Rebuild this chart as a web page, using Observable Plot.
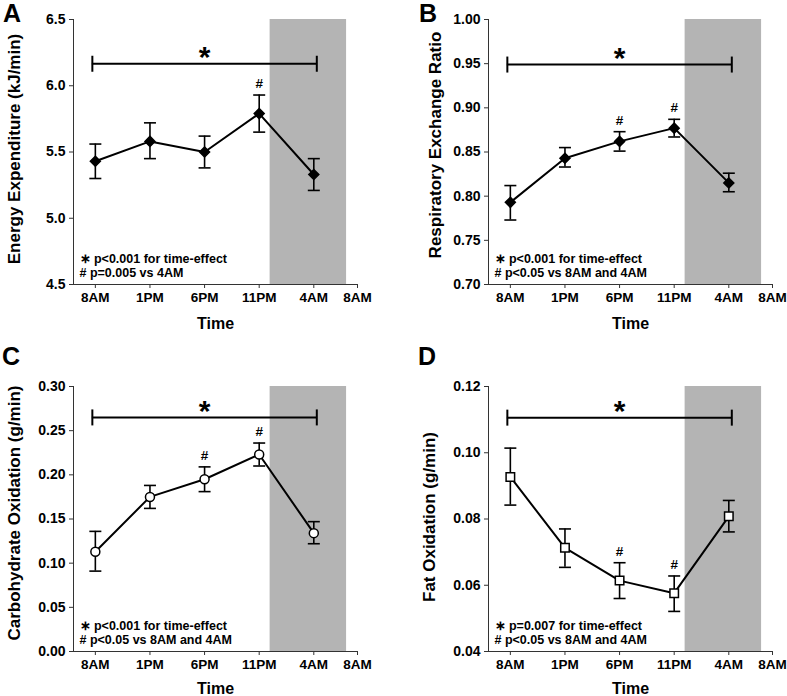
<!DOCTYPE html>
<html><head><meta charset="utf-8">
<script src="https://cdn.jsdelivr.net/npm/d3@7"></script>
<script src="https://cdn.jsdelivr.net/npm/@observablehq/plot@0.6"></script>
<style>
body{margin:0;background:#fff;font-family:"Liberation Sans",Arial,sans-serif;}
#fig{position:relative;width:787px;height:696px;overflow:hidden;}
.panel{position:absolute;}
.letter{position:absolute;font-weight:bold;font-size:25px;line-height:1;color:#000;}
</style></head><body><div id="fig"></div>
<script>
// ---- data ----
const timeLabels = ["8AM", "1PM", "6PM", "11PM", "4AM", "8AM"];
const timeTicks = [8, 13, 18, 23, 28, 32];        // hours since midnight of day 1
const sampleHours = [8, 13, 18, 23, 28];
const nightSpan = [24, 31];                        // shaded period (midnight to 7AM)
const comparisonSpan = [8, 28];                    // time-effect bracket

const eeMean = [5.43, 5.58, 5.50, 5.79, 5.33];
const eeLow  = [5.30, 5.45, 5.38, 5.65, 5.21];
const eeHigh = [5.56, 5.72, 5.62, 5.93, 5.45];
const eeHash = [false, false, false, true, false];
const eeTicks = [4.5, 5.0, 5.5, 6.0, 6.5];
const eeBracket = 6.166;

const rerMean = [0.793, 0.843, 0.862, 0.877, 0.815];
const rerLow  = [0.773, 0.833, 0.851, 0.867, 0.805];
const rerHigh = [0.812, 0.855, 0.873, 0.887, 0.826];
const rerHash = [false, false, true, true, false];
const rerTicks = [0.70, 0.75, 0.80, 0.85, 0.90, 0.95, 1.00];
const rerBracket = 0.949;

const choMean = [0.113, 0.175, 0.195, 0.223, 0.134];
const choLow  = [0.091, 0.162, 0.181, 0.210, 0.122];
const choHigh = [0.136, 0.188, 0.209, 0.236, 0.147];
const choHash = [false, false, true, true, false];
const choTicks = [0.00, 0.05, 0.10, 0.15, 0.20, 0.25, 0.30];
const choBracket = 0.265;

const fatMean = [0.0927, 0.0713, 0.0614, 0.0576, 0.0808];
const fatLow  = [0.0842, 0.0654, 0.0560, 0.0521, 0.0761];
const fatHigh = [0.1014, 0.0770, 0.0668, 0.0628, 0.0856];
const fatHash = [false, false, true, true, false];
const fatTicks = [0.04, 0.06, 0.08, 0.10, 0.12];
const fatBracket = 0.1106;

const notesA = "∗ p<0.001 for time-effect\n# p=0.005 vs 4AM";
const notesB = "∗ p<0.001 for time-effect\n# p<0.05 vs 8AM and 4AM";
const notesC = "∗ p<0.001 for time-effect\n# p<0.05 vs 8AM and 4AM";
const notesD = "∗ p=0.007 for time-effect\n# p<0.05 vs 8AM and 4AM";

// ---- drawing ----
const FONT = "'Liberation Sans', Arial, sans-serif";
const hcap = {draw(ctx, size) { const r = Math.sqrt(size / Math.PI); ctx.moveTo(-r, 0); ctx.lineTo(r, 0); }};
const vcap = {draw(ctx, size) { const r = Math.sqrt(size / Math.PI); ctx.moveTo(0, -r); ctx.lineTo(0, r); }};
const fig = document.getElementById("fig");

function panel(o) {
  const rows = sampleHours.map((h, i) => ({x: h, y: o.mean[i], lo: o.low[i], hi: o.high[i], hash: o.hash[i]}));
  const yDomain = [o.yTicks[0], o.yTicks[o.yTicks.length - 1]];
  const chart = Plot.plot({
    width: o.width, height: 348,
    marginLeft: o.ml, marginRight: o.mr, marginTop: o.mt, marginBottom: o.mb,
    style: {fontFamily: FONT, color: "#000", background: "transparent", overflow: "visible"},
    x: {domain: [6, 32]},
    y: {domain: yDomain},
    marks: [
      Plot.rect([nightSpan], {x1: d => d[0], x2: d => d[1], fill: "#b4b4b4"}),
      Plot.ruleX([6], {stroke: "#333", strokeWidth: 1}),
      Plot.ruleY([yDomain[0]], {stroke: "#333", strokeWidth: 1}),
      Plot.axisY({ticks: o.yTicks, tickFormat: d3.format(o.yFmt), tickSize: 4, tickPadding: 4,
                  label: null, fontSize: 14, fontWeight: "bold", stroke: "#333"}),
      Plot.axisX({ticks: timeTicks, tickFormat: (d, i) => timeLabels[i], tickSize: 4, tickPadding: 4,
                  label: null, fontSize: 13.5, fontWeight: "bold", stroke: "#333"}),
      Plot.text([o.yLabel], {frameAnchor: "left", textAnchor: "middle", rotate: -90, lineAnchor: "top",
                             dx: -o.labelOffset, dy: o.labelDy, fontSize: 17, fontWeight: "bold"}),
      Plot.text(["Time"], {frameAnchor: "bottom", lineAnchor: "bottom", dy: o.timeOffset, fontSize: 16, fontWeight: "bold"}),
      Plot.text([o.notes], {frameAnchor: "bottom-left", textAnchor: "start", lineAnchor: "bottom", dx: 6, dy: -8,
                            fontSize: 12.5, fontWeight: "bold", lineHeight: 1.07}),
      // time-effect bracket
      Plot.ruleY([o.bracket], {x1: comparisonSpan[0], x2: comparisonSpan[1], insetLeft: -3, insetRight: -3, strokeWidth: 2, stroke: "#000"}),
      Plot.dot([comparisonSpan[0]], {x: d => d, y: o.bracket, dx: -3, symbol: vcap, r: 8, stroke: "#000", fill: "none", strokeWidth: 2}),
      Plot.dot([comparisonSpan[1]], {x: d => d, y: o.bracket, dx: 3, symbol: vcap, r: 8, stroke: "#000", fill: "none", strokeWidth: 2}),
      Plot.text([o.bracket], {x: 18, y: d => d, text: () => "*", dy: -18, lineAnchor: "top", fontSize: 30, fontWeight: "bold"}),
      // error bars
      Plot.ruleX(rows, {x: "x", y1: "lo", y2: "hi", stroke: "#000", strokeWidth: 1.6}),
      Plot.dot(rows, {x: "x", y: "hi", symbol: hcap, r: 6, stroke: "#000", fill: "none", strokeWidth: 1.6}),
      Plot.dot(rows, {x: "x", y: "lo", symbol: hcap, r: 6, stroke: "#000", fill: "none", strokeWidth: 1.6}),
      Plot.line(rows, {x: "x", y: "y", stroke: "#000", strokeWidth: 2}),
      Plot.dot(rows, {x: "x", y: "y", symbol: o.symbol, r: o.r, fill: o.fill, stroke: "#000", strokeWidth: 1.5}),
      Plot.text(rows.filter(d => d.hash), {x: "x", y: "hi", text: () => "#", dy: -7, lineAnchor: "bottom", fontSize: 13.5, fontWeight: "bold"})
    ]
  });
  const div = document.createElement("div");
  div.className = "panel";
  div.style.left = o.left + "px";
  div.style.top = o.top + "px";
  div.appendChild(chart);
  fig.appendChild(div);
  const L = document.createElement("div");
  L.className = "letter";
  L.textContent = o.letter;
  L.style.left = o.lx + "px";
  L.style.top = o.ly + "px";
  fig.appendChild(L);
}

panel({letter: "A", lx: 3, ly: 1, left: 0, top: 0, width: 393, ml: 73, mr: 36, mt: 19, mb: 64,
  mean: eeMean, low: eeLow, high: eeHigh, hash: eeHash, yTicks: eeTicks, yFmt: ".1f", bracket: eeBracket,
  yLabel: "Energy Expenditure (kJ/min)", labelOffset: 66, labelDy: -3, timeOffset: 44, notes: notesA,
  symbol: "diamond2", r: 4.5, fill: "#000"});
panel({letter: "B", lx: 419, ly: 1, left: 393, top: 0, width: 394, ml: 95, mr: 15, mt: 19, mb: 64,
  mean: rerMean, low: rerLow, high: rerHigh, hash: rerHash, yTicks: rerTicks, yFmt: ".2f", bracket: rerBracket,
  yLabel: "Respiratory Exchange Ratio", labelOffset: 60, labelDy: -7, timeOffset: 44, notes: notesB,
  symbol: "diamond2", r: 4.5, fill: "#000"});
panel({letter: "C", lx: 2, ly: 344, left: 0, top: 348, width: 393, ml: 73, mr: 36, mt: 38, mb: 45,
  mean: choMean, low: choLow, high: choHigh, hash: choHash, yTicks: choTicks, yFmt: ".2f", bracket: choBracket,
  yLabel: "Carbohydrate Oxidation (g/min)", labelOffset: 66, labelDy: -6, timeOffset: 42, notes: notesC,
  symbol: "circle", r: 4.5, fill: "#fff"});
panel({letter: "D", lx: 418, ly: 344, left: 393, top: 348, width: 394, ml: 95, mr: 15, mt: 38, mb: 45,
  mean: fatMean, low: fatLow, high: fatHigh, hash: fatHash, yTicks: fatTicks, yFmt: ".2f", bracket: fatBracket,
  yLabel: "Fat Oxidation (g/min)", labelOffset: 66, labelDy: -2, timeOffset: 42, notes: notesD,
  symbol: "square", r: 4.8, fill: "#fff"});
</script>
</body></html>
